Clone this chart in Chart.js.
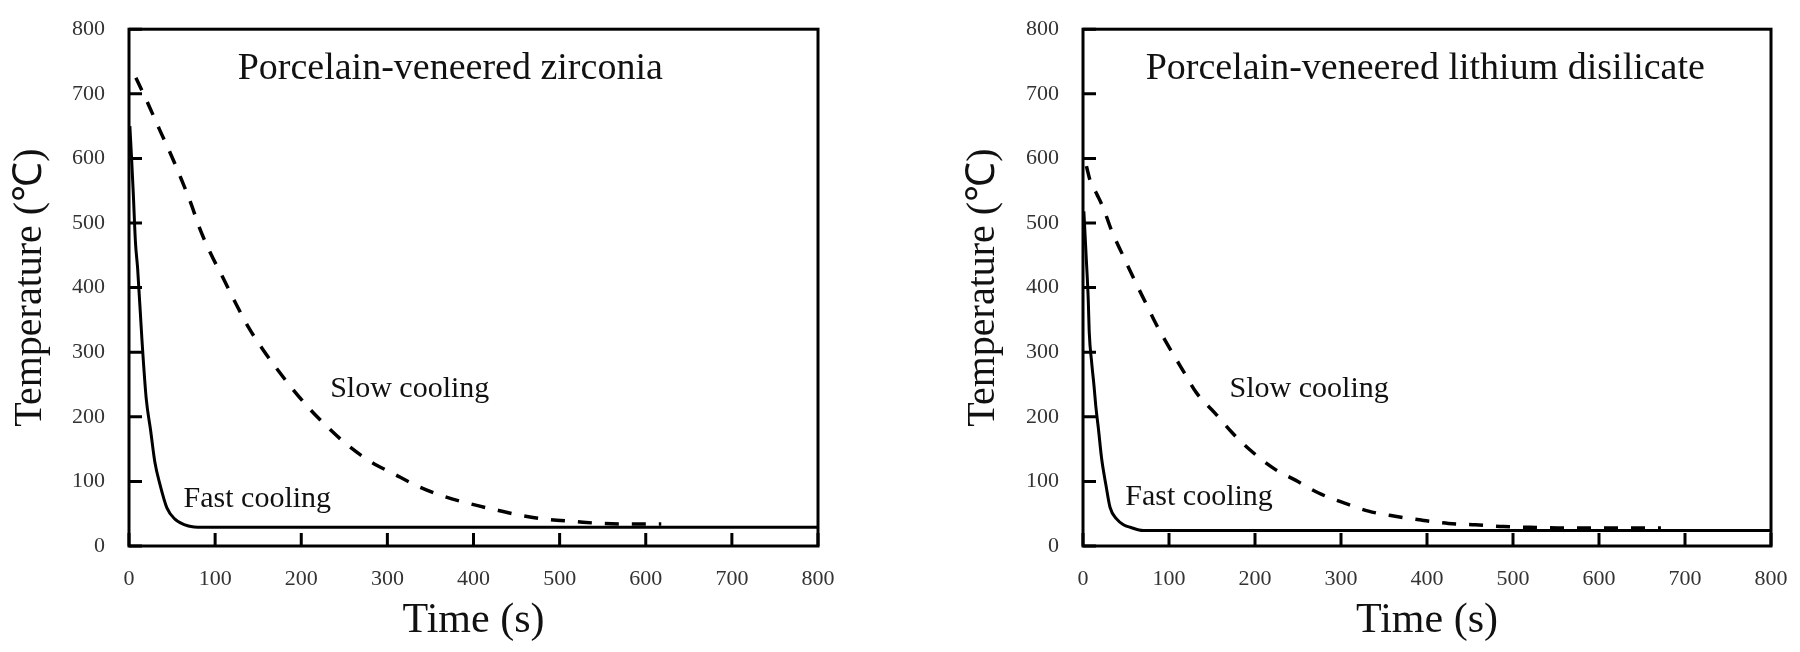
<!DOCTYPE html>
<html>
<head>
<meta charset="utf-8">
<script src="https://cdn.jsdelivr.net/npm/chart.js@4.4.1/dist/chart.umd.min.js"></script>
<style>
  html, body { margin: 0; padding: 0; background: #fff; }
  #wrap { display: flex; width: 1800px; height: 652px; }
  canvas { display: block; }
</style>
</head>
<body>
<div id="wrap">
  <canvas id="chartZr" width="900" height="652"></canvas>
  <canvas id="chartLd" width="900" height="652"></canvas>
</div>
<script>
// axis ticks (both axes, both panels)
var tickValues = [0, 100, 200, 300, 400, 500, 600, 700, 800];

// porcelain-veneered zirconia
var zrSlowTime = [8, 22, 36, 49, 61, 72, 82, 94, 110, 123, 139, 155, 173, 190, 210, 233, 253, 280, 307, 333, 363, 397, 429, 453, 487, 517, 547, 580, 618];
var zrSlowTemp = [725, 685, 643, 605, 567, 530, 492, 455, 413, 378, 338, 305, 272, 243, 212, 181, 157, 131, 112, 94, 78, 65, 55, 48, 41, 38, 35, 34, 34];
var zrFastTime = [1, 3, 5, 7.5, 10, 15, 20, 25, 30, 36, 44, 53, 69, 85, 800];
var zrFastTemp = [650, 600, 545, 470, 430, 320, 228, 180, 130, 95, 59, 42, 31, 29, 29];

// porcelain-veneered lithium disilicate
var ldSlowTime = [4, 8, 16, 24, 33, 46, 59, 73, 86, 100, 117, 132, 154, 173, 194, 223, 247, 274, 305, 332, 363, 394, 425, 456, 489, 520, 560, 620, 672];
var ldSlowTemp = [588, 567, 545, 522, 489, 451, 414, 376, 341, 308, 270, 237, 205, 176, 149, 119, 102, 82, 66, 54, 46, 40, 35, 33, 30, 29, 28, 28, 28];
var ldFastTime = [1, 4, 6, 7.3, 10, 12.8, 15, 17.8, 21.7, 26.7, 31.4, 39, 47, 55, 70, 800];
var ldFastTemp = [518, 440, 385, 330, 285, 248, 215, 183, 135, 94, 60, 42, 33, 29, 24, 24];

var FONT = "'Liberation Serif', 'Times New Roman', serif";

function toPoints(xs, ys){
    var pts = [];
    for(var i = 0; i < xs.length; i++) pts.push({x: xs[i], y: ys[i]});
    return pts;
}

// frame, inward tick marks and in-plot labels
var framePlugin = {
    id: "frame",
    afterDatasetsDraw: function(chart, args, opts){
        var ctx = chart.ctx;
        var a = chart.chartArea;
        var xs = chart.scales.x, ys = chart.scales.y;
        ctx.save();
        ctx.strokeStyle = "#000";
        ctx.lineWidth = 3;
        ctx.beginPath();
        tickValues.forEach(function(v){
            var px = xs.getPixelForValue(v);
            ctx.moveTo(px, a.bottom);
            ctx.lineTo(px, a.bottom - 13);
            var py = ys.getPixelForValue(v);
            ctx.moveTo(a.left, py);
            ctx.lineTo(a.left + 13, py);
        });
        ctx.stroke();
        ctx.strokeRect(a.left, a.top, a.right - a.left, a.bottom - a.top);

        ctx.fillStyle = "#111";
        ctx.textAlign = "center";
        ctx.textBaseline = "alphabetic";
        (opts.labels || []).forEach(function(l){
            ctx.font = l.size + "px " + FONT;
            ctx.fillText(l.text, xs.getPixelForValue(l.x), ys.getPixelForValue(l.y));
        });
        ctx.restore();
    }
};

function makeChart(id, slow, fast, yAxisWidth, rightPad, yTitlePad, labels){
    var ctx = document.getElementById(id).getContext("2d");
    return new Chart(ctx, {
        type: "line",
        data: {
            datasets: [{
                label: "Slow cooling",
                data: slow,
                borderColor: "#000",
                borderWidth: 3.5,
                borderDash: [14, 13],
                pointRadius: 0,
                cubicInterpolationMode: "monotone",
                fill: false
            },{
                label: "Fast cooling",
                data: fast,
                borderColor: "#000",
                borderWidth: 3,
                pointRadius: 0,
                cubicInterpolationMode: "monotone",
                fill: false
            }]
        },
        options: {
            responsive: false,
            animation: false,
            layout: { padding: { top: 16, right: rightPad, bottom: 0, left: 0 } },
            plugins: {
                legend: { display: false },
                tooltip: { enabled: false },
                frame: { labels: labels }
            },
            scales: {
                x: {
                    type: "linear",
                    min: 0, max: 800,
                    afterBuildTicks: function(s){ s.ticks = tickValues.map(function(v){ return {value: v}; }); },
                    grid: { display: false },
                    border: { display: false },
                    ticks: { padding: 12, color: "#333", font: { family: FONT, size: 22 }, maxRotation: 0 },
                    title: { display: true, text: "Time (s)", color: "#111", font: { family: FONT, size: 42 }, padding: { top: 0, bottom: 6 } },
                    afterFit: function(s){ s.height = 106; }
                },
                y: {
                    type: "linear",
                    min: 0, max: 800,
                    afterBuildTicks: function(s){ s.ticks = tickValues.map(function(v){ return {value: v}; }); },
                    grid: { display: false },
                    border: { display: false },
                    ticks: { padding: 16, color: "#333", font: { family: FONT, size: 22 } },
                    title: { display: true, text: "Temperature (℃)", color: "#111", font: { family: FONT, size: 40 }, padding: { top: yTitlePad, bottom: 0 } },
                    afterFit: function(s){ s.width = yAxisWidth; }
                }
            }
        },
        plugins: [framePlugin]
    });
}

makeChart("chartZr", toPoints(zrSlowTime, zrSlowTemp), toPoints(zrFastTime, zrFastTemp), 129, 82, 6, [
    {text: "Porcelain-veneered zirconia", x: 373, y: 723, size: 38},
    {text: "Slow cooling", x: 326, y: 231, size: 30},
    {text: "Fast cooling", x: 149, y: 61, size: 30}
]);

makeChart("chartLd", toPoints(ldSlowTime, ldSlowTemp), toPoints(ldFastTime, ldFastTemp), 183, 29, 59, [
    {text: "Porcelain-veneered lithium disilicate", x: 398, y: 723, size: 38},
    {text: "Slow cooling", x: 263, y: 230, size: 30},
    {text: "Fast cooling", x: 135, y: 64, size: 30}
]);
</script>
</body>
</html>
